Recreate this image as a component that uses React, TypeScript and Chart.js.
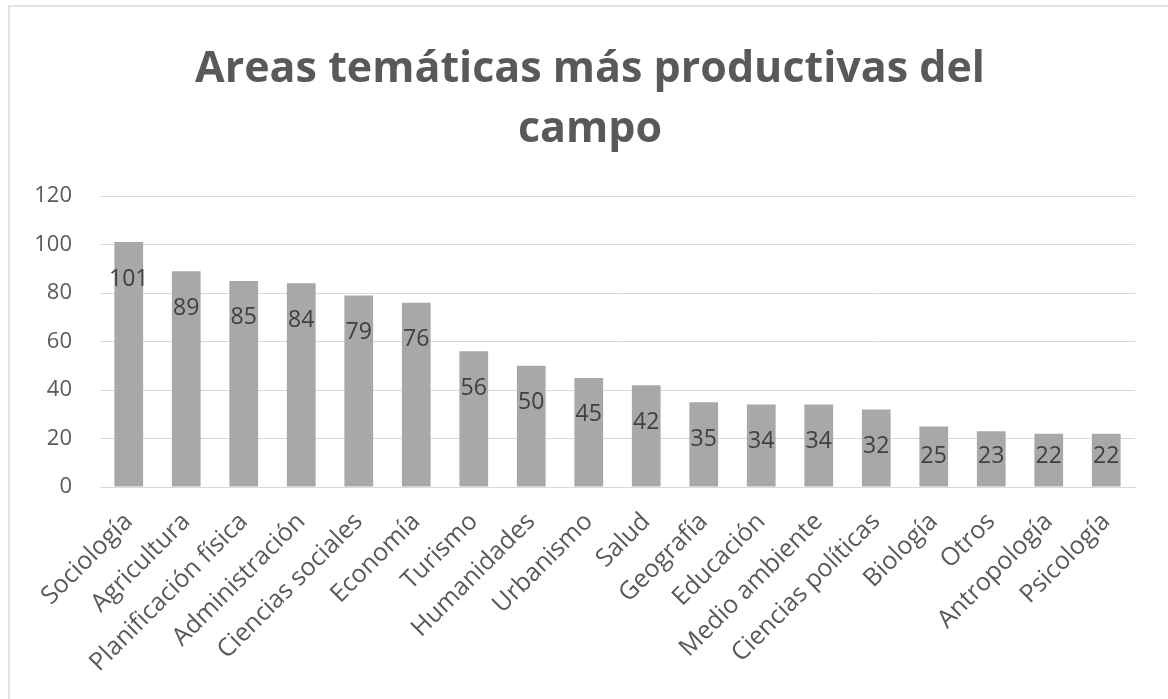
import React, { useEffect, useRef } from "react";
import { Chart, registerables } from "chart.js";

Chart.register(...registerables);

const categories = [
  "Sociología", "Agricultura", "Planificación física", "Administración", "Ciencias sociales",
  "Economía", "Turismo", "Humanidades", "Urbanismo", "Salud", "Geografía", "Educación",
  "Medio ambiente", "Ciencias políticas", "Biología", "Otros", "Antropología", "Psicología",
];
const values = [101, 89, 85, 84, 79, 76, 56, 50, 45, 42, 35, 34, 34, 32, 25, 23, 22, 22];
const titleLines = ["Areas temáticas más productivas del", "campo"];
const yTicks = [0, 20, 40, 60, 80, 100, 120];

const FONT = "'Open Sans', 'Noto Sans', sans-serif";

const labelPlugin = {
  id: "barLabels",
  afterDatasetsDraw(chart: any) {
    const ctx = chart.ctx;
    const meta = chart.getDatasetMeta(0);
    const base = chart.scales.y.getPixelForValue(0);
    ctx.save();
    ctx.font = `23px ${FONT}`;
    ctx.fillStyle = "#404040";
    ctx.textAlign = "center";
    ctx.textBaseline = "middle";
    meta.data.forEach((bar: any, i: number) => {
      const y = Math.min(bar.y + 37, base - 31);
      ctx.fillText(String(values[i]), bar.x, y);
    });
    ctx.restore();
  },
};

const titlePlugin = {
  id: "chartTitle",
  afterDraw(chart: any) {
    const ctx = chart.ctx;
    ctx.save();
    ctx.font = `bold 43px ${FONT}`;
    ctx.fillStyle = "#595959";
    ctx.textAlign = "center";
    ctx.textBaseline = "middle";
    titleLines.forEach((line, i) => {
      ctx.fillText(line, 590, 70 + i * 60);
    });
    ctx.restore();
  },
};

export default function App() {
  const ref = useRef<HTMLCanvasElement>(null);
  useEffect(() => {
    if (!ref.current) return;
    const chart = new Chart(ref.current, {
      type: "bar",
      data: {
        labels: categories,
        datasets: [
          {
            data: values,
            backgroundColor: "#A8A8A8",
            barPercentage: 0.5,
            categoryPercentage: 1,
          },
        ],
      },
      options: {
        animation: false,
        responsive: false,
        layout: { padding: { left: 10, right: 33, top: 196, bottom: 0 } },
        plugins: {
          legend: { display: false },
          tooltip: { enabled: false },
          title: { display: false },
        },
        scales: {
          x: {
            grid: { display: false, drawTicks: false },
            border: { color: "#d9d9d9", width: 1 },
            ticks: {
              color: "#595959",
              font: { family: FONT, size: 25 },
              maxRotation: 45,
              minRotation: 45,
              autoSkip: false,
              padding: 20,
            },
            afterFit(scale: any) {
              scale.height = 212;
            },
          },
          y: {
            min: 0,
            max: 120,
            afterBuildTicks(scale: any) {
              scale.ticks = yTicks.map((v) => ({ value: v }));
            },
            grid: { color: "#d9d9d9", drawTicks: false },
            border: { display: false },
            ticks: {
              color: "#595959",
              font: { family: FONT, size: 22 },
              padding: 28,
            },
            afterFit(scale: any) {
              scale.width = 90;
            },
          },
        },
      },
      plugins: [labelPlugin, titlePlugin],
    });
    return () => chart.destroy();
  }, []);

  return (
    <div
      style={{
        position: "fixed",
        left: 0,
        top: 0,
        width: 1168,
        height: 699,
        overflow: "hidden",
        background: "#fff",
      }}
    >
      <div
        style={{
          position: "absolute",
          left: 8,
          top: 5,
          width: 1200,
          height: 800,
          border: "2px solid #e3e3e3",
        }}
      />
      <canvas
        ref={ref}
        width={1168}
        height={699}
        style={{ position: "absolute", left: 0, top: 0, width: 1168, height: 699 }}
      />
    </div>
  );
}
